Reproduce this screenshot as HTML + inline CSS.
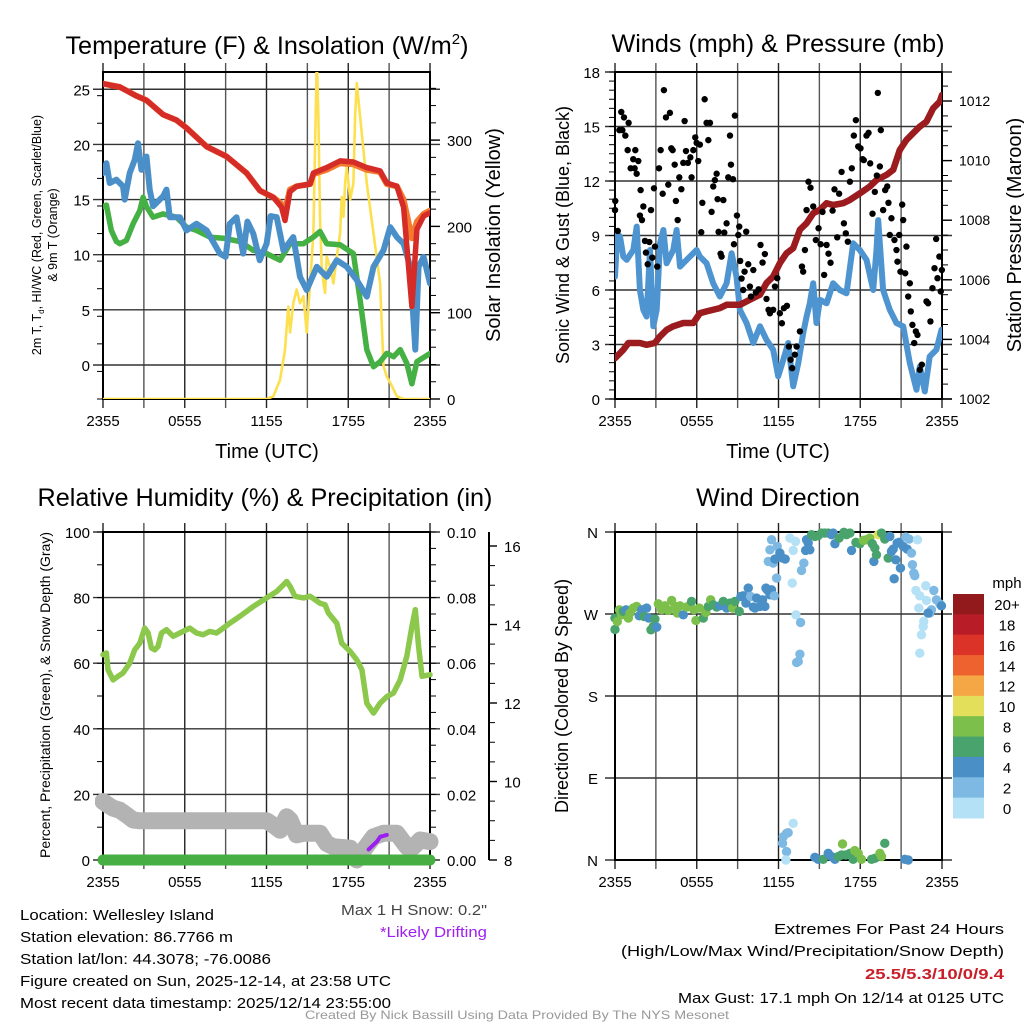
<!DOCTYPE html>
<html><head><meta charset="utf-8">
<style>
html,body{margin:0;padding:0;background:#fff;}
svg{display:block;font-family:"Liberation Sans",Arial,sans-serif;}
</style></head>
<body>
<svg id="c" width="1024" height="1024" viewBox="0 0 1024 1024" xmlns="http://www.w3.org/2000/svg">
<rect width="1024" height="1024" fill="#fff"/>
<defs>
<clipPath id="cp1"><rect x="103" y="72" width="327" height="327"/></clipPath>
<clipPath id="cp2"><rect x="615" y="72" width="327" height="327"/></clipPath>
<clipPath id="cp3"><rect x="95" y="532" width="345" height="340"/></clipPath>
<clipPath id="cp4"><rect x="605" y="525" width="345" height="345"/></clipPath>
</defs>
<g id="g1"></g>
<g id="g2"></g>
<g id="g3"></g>
<g id="g4"></g>

<text x="267" y="54" font-size="25.2" text-anchor="middle">Temperature (F) &amp; Insolation (W/m<tspan font-size="15" dy="-10">2</tspan><tspan dy="10">)</tspan></text>
<text x="778" y="52" font-size="25.2" text-anchor="middle">Winds (mph) &amp; Pressure (mb)</text>
<text x="265" y="506" font-size="25.2" text-anchor="middle">Relative Humidity (%) &amp; Precipitation (in)</text>
<text x="778" y="506" font-size="25.2" text-anchor="middle">Wind Direction</text>

<text x="267" y="458" font-size="20" text-anchor="middle">Time (UTC)</text>
<text x="778" y="458" font-size="20" text-anchor="middle">Time (UTC)</text>
<text transform="translate(41,235) rotate(-90)" font-size="12.5" text-anchor="middle">2m T, T<tspan font-size="8" dy="3">d</tspan><tspan dy="-3">, HI/WC (Red, Green, Scarlet/Blue)</tspan></text>
<text transform="translate(57,235) rotate(-90)" font-size="12.5" text-anchor="middle">&amp; 9m T (Orange)</text>
<text transform="translate(500,235) rotate(-90)" font-size="20" text-anchor="middle">Solar Insolation (Yellow)</text>
<text transform="translate(569,235) rotate(-90)" font-size="18" text-anchor="middle">Sonic Wind &amp; Gust (Blue, Black)</text>
<text transform="translate(1021,235) rotate(-90)" font-size="20" text-anchor="middle">Station Pressure (Maroon)</text>
<text transform="translate(50,695) rotate(-90)" font-size="14" text-anchor="middle">Percent, Precipitation (Green), &amp; Snow Depth (Gray)</text>
<text transform="translate(568,696) rotate(-90)" font-size="18" text-anchor="middle">Direction (Colored By Speed)</text>

<g font-size="15">
<text x="20" y="920" textLength="194" lengthAdjust="spacingAndGlyphs">Location: Wellesley Island</text>
<text x="20" y="942" textLength="213" lengthAdjust="spacingAndGlyphs">Station elevation: 86.7766 m</text>
<text x="20" y="964" textLength="251" lengthAdjust="spacingAndGlyphs">Station lat/lon: 44.3078; -76.0086</text>
<text x="20" y="986" textLength="371" lengthAdjust="spacingAndGlyphs">Figure created on Sun, 2025-12-14, at 23:58 UTC</text>
<text x="20" y="1008" textLength="371" lengthAdjust="spacingAndGlyphs">Most recent data timestamp: 2025/12/14 23:55:00</text>
<text x="341" y="915" fill="#444" textLength="146" lengthAdjust="spacingAndGlyphs">Max 1 H Snow: 0.2"</text>
<text x="380" y="937" fill="#a020f0" textLength="107" lengthAdjust="spacingAndGlyphs">*Likely Drifting</text>
<text x="774" y="934" textLength="230" lengthAdjust="spacingAndGlyphs">Extremes For Past 24 Hours</text>
<text x="621" y="956" textLength="383" lengthAdjust="spacingAndGlyphs">(High/Low/Max Wind/Precipitation/Snow Depth)</text>
<text x="865" y="979" fill="#c8202a" font-weight="bold" textLength="139" lengthAdjust="spacingAndGlyphs">25.5/5.3/10/0/9.4</text>
<text x="678" y="1003" textLength="326" lengthAdjust="spacingAndGlyphs">Max Gust: 17.1 mph On 12/14 at 0125 UTC</text>
<text x="305" y="1019" font-size="12" fill="#999" textLength="424" lengthAdjust="spacingAndGlyphs">Created By Nick Bassill Using Data Provided By The NYS Mesonet</text>
</g>
</svg>
<script>
// ---------- data ----------
const timeTickLabels = ["2355","0555","1155","1755","2355"];
const tempTicks = [0,5,10,15,20,25];
const solarTicks = [0,100,200,300];
const windTicks = [0,3,6,9,12,15,18];
const pressTicks = [1002,1004,1006,1008,1010,1012];
const rhTicks = [0,20,40,60,80,100];
const precipTickLabels = ["0.00","0.02","0.04","0.06","0.08","0.10"];
const snowTicks = [8,10,12,14,16];
const dirTickLabels = ["N","E","S","W","N"];
const dirTicks = [0,90,180,270,360];
const speedBinLabels = ["20+","18","16","14","12","10","8","6","4","2","0"];

const tempH = [0,1.23,2.45,3.19,4.41,5.39,6.13,7.6,9.07,10.54,11.52,12.5,13.11,13.36,13.72,14.21,15.2,15.44,16.42,17.4,18.38,19.36,20.34,20.83,21.57,22.06,22.67,23.04,23.53,24];
const tempV = [25.5,25.2,24.4,24.0,22.7,22.2,21.5,19.8,18.9,17.4,15.8,15.2,14.3,13.1,15.7,16.2,16.4,17.4,17.9,18.5,18.4,17.9,17.6,16.5,16.2,14.3,5.3,12.3,13.5,13.8];
const temp9mV = [25.5,25.2,24.4,24.0,22.7,22.2,21.5,19.8,18.9,17.4,15.8,15.2,14.6,14.0,15.9,16.2,16.4,17.3,17.7,18.3,18.2,17.7,17.5,16.4,16.2,15.0,11.5,13.0,13.7,14.0];
const dewH = [0,0.25,0.61,0.98,1.23,1.72,2.21,2.7,2.94,3.19,3.68,4.41,5.39,6.13,6.86,7.84,8.82,10.05,11.03,12.01,12.99,13.73,14.71,15.44,15.93,16.42,17.4,18.38,18.87,19.36,19.85,20.34,20.83,21.32,21.81,22.3,22.67,23.04,24];
const dewV = [14.35,14.5,12.2,11.2,11.0,11.3,12.8,14.0,15.2,14.35,13.4,13.7,13.4,12.5,12.2,11.6,11.5,11.2,10.4,10.1,9.5,11.0,11.0,11.6,12.1,11.0,10.9,10.1,5.9,1.4,-0.15,0.3,1.05,0.75,1.4,0.15,-1.7,0.3,1.05];
const wcH = [0,0.25,0.49,0.98,1.47,1.59,1.96,2.33,2.57,2.82,3.19,3.43,3.68,4.41,4.66,4.9,5.64,6.13,6.86,7.6,8.58,9.0,9.31,9.8,10.29,10.6,11.03,11.5,12.01,12.3,12.75,13.24,13.97,14.46,14.95,15.69,16.42,17.16,17.89,18.63,19.36,19.85,20.59,21.08,21.57,22.06,22.55,22.92,23.16,23.53,24];
const wcV = [17.4,18.3,16.5,16.8,16.2,15.0,17.4,18.6,20.1,17.7,18.9,15.9,14.4,15.3,15.9,13.4,13.4,12.2,12.8,12.2,10.1,9.8,12.8,13.4,10.1,13.0,11.9,9.5,11.0,13.5,13.4,10.4,11.6,8.0,6.8,8.9,8.0,9.5,8.9,7.7,6.2,8.9,10.4,12.5,11.6,11.0,8.9,1.4,8.9,9.8,7.4];
const solarH = [0,12,12.5,12.99,13.36,13.48,13.6,13.73,13.97,14.22,14.46,14.71,14.95,15.2,15.44,15.56,15.69,15.81,15.93,16.05,16.18,16.3,16.42,16.67,16.91,17.16,17.4,17.52,17.65,17.77,17.89,18.14,18.38,18.5,18.63,18.87,19.36,19.85,20.34,20.59,20.83,21.08,21.57,22.06,24];
const solarV = [0,0,3,22,57,84,107,77,111,127,111,119,77,134,192,288,395,327,211,153,134,123,165,153,134,165,192,234,211,250,269,231,250,327,366,327,250,192,134,38,26,19,3,0,0];

const pressH = [0,0.61,0.98,1.83,2.32,2.93,3.3,3.79,4.28,5.01,5.75,6.23,6.72,7.7,8.19,9.17,10.15,10.64,11.12,11.61,12.1,12.59,13.08,13.57,14.06,14.55,15.04,15.53,16.01,16.75,17.24,17.97,18.7,19.19,19.93,20.42,20.9,21.39,21.88,22.37,22.86,23.35,23.84,24];
const pressV = [1003.37,1003.65,1003.88,1003.88,1003.82,1003.88,1004.1,1004.32,1004.44,1004.55,1004.55,1004.88,1004.94,1005.05,1005.16,1005.16,1005.39,1005.5,1005.89,1006.11,1006.56,1006.89,1007.06,1007.68,1007.9,1008.23,1008.35,1008.57,1008.51,1008.57,1008.68,1008.9,1009.13,1009.35,1009.52,1009.69,1010.36,1010.69,1010.92,1011.14,1011.31,1011.75,1011.98,1012.2];
const windH = [0,0.17,0.37,0.61,0.86,1.34,1.59,1.83,2.08,2.32,2.57,2.81,3.06,3.3,3.55,3.79,4.03,4.28,4.52,4.77,5.26,5.75,5.99,6.23,6.72,7.21,7.7,8.19,8.56,8.92,9.17,9.66,10.15,10.64,11.12,11.61,11.98,12.35,12.71,13.08,13.45,13.81,14.06,14.3,14.55,14.79,15.04,15.53,16.01,16.5,16.99,17.48,17.97,18.46,18.95,19.19,19.32,19.68,20.17,20.66,21.15,21.64,22.13,22.37,22.74,23.1,23.59,23.96];
const windV = [6.74,9.12,8.94,7.84,7.66,8.2,9.49,6.0,4.91,4.54,8.2,4.0,4.91,8.57,9.3,7.47,7.84,8.2,9.3,7.29,7.66,8.02,8.2,7.84,7.47,6.37,5.64,6.37,8.02,6.74,4.91,4.18,3.08,4.0,3.26,2.71,1.25,2.16,3.08,0.7,1.98,3.63,4.54,5.27,6.37,4.18,5.46,5.27,6.37,6.0,5.82,8.57,8.2,7.66,6.0,8.2,9.85,6.0,4.91,4.18,4.0,1.98,0.51,1.79,0.42,2.34,2.71,3.81];
const gustH = [0,0.02,0.2,0.32,0.46,0.54,0.66,0.76,0.93,1.0,1.15,1.34,1.44,1.49,1.59,1.71,1.83,1.88,1.98,2.08,2.2,2.27,2.4,2.52,2.64,2.74,2.86,2.93,3.1,3.23,3.35,3.5,3.59,3.74,3.91,4.03,4.13,4.23,4.38,4.47,4.6,4.72,4.87,5.01,5.11,5.21,5.35,5.53,5.62,5.75,5.89,5.99,6.11,6.23,6.33,6.41,6.58,6.72,6.85,6.97,7.09,7.21,7.33,7.46,7.53,7.6,7.75,7.82,7.95,8.02,8.19,8.31,8.44,8.51,8.66,8.73,8.8,8.95,9.05,9.12,9.19,9.29,9.41,9.51,9.63,9.78,9.9,9.98,10.15,10.34,10.54,10.68,10.83,11.0,11.12,11.27,11.37,11.61,11.74,11.91,12.1,12.25,12.4,12.62,12.76,12.89,13.0,13.2,13.33,13.57,13.72,13.81,13.94,14.06,14.2,14.35,14.55,14.74,14.94,15.09,15.23,15.35,15.53,15.67,15.82,15.97,16.11,16.31,16.45,16.63,16.8,16.94,17.09,17.24,17.38,17.53,17.68,17.85,18.02,18.17,18.26,18.46,18.61,18.73,18.9,19.07,19.22,19.29,19.44,19.51,19.68,19.83,19.98,20.07,20.17,20.29,20.51,20.66,20.73,20.86,20.95,21.08,21.15,21.3,21.39,21.52,21.64,21.71,21.83,21.96,22.08,22.2,22.37,22.52,22.86,22.98,23.15,23.3,23.45,23.57,23.67,23.81,23.91,23.99];
const gustV = [10.4,10.9,9.25,14.8,15.8,14.8,15.5,14.5,13.7,15.2,12.7,13.2,12.7,13.7,12.4,13.1,10.1,11.5,9.85,10.6,8.7,8.06,7.42,8.64,10.4,7.78,11.6,8.39,7.29,12.7,13.7,11.3,17.0,15.5,11.8,15.75,13.8,13.7,12.9,10.9,9.85,12.2,11.55,13.0,15.3,13.65,13.0,13.3,12.2,13.7,14.4,14.1,13.1,14.0,9.18,10.8,16.5,15.2,14.25,15.2,10.3,11.7,12.05,12.4,11.0,9.2,8.0,7.84,10.95,9.16,9.67,12.2,14.5,12.9,12.1,8.52,15.6,10.1,9.03,9.49,7.6,6.63,6.0,7.01,9.21,7.42,6.19,5.64,7.1,5.86,6.04,8.48,7.51,7.98,5.51,4.91,4.72,4.91,6.19,6.65,4.72,4.17,5.0,5.13,2.89,2.16,1.7,2.44,2.89,3.72,7.29,7.01,8.2,10.4,11.96,11.63,10.6,8.75,9.4,8.52,10.3,6.83,8.48,8.0,7.5,10.37,11.54,8.9,11.3,12.5,9.67,9.12,8.66,11.96,12.7,14.5,15.35,13.9,13.8,13.2,13.15,14.5,14.65,12.97,10.2,11.4,12.3,16.85,12.8,14.8,10.4,11.5,11.7,10.8,9.03,9.95,8.75,8.2,7.56,9.03,7.01,10.7,9.85,6.92,8.39,5.64,6.37,4.82,4.08,3.08,3.72,3.53,1.61,1.89,5.37,5.27,4.27,6.1,7.2,8.81,6.65,7.84,5.92,7.1];

const rhH = [0,0.25,0.37,0.74,1.1,1.47,1.96,2.33,2.7,3.06,3.31,3.55,3.8,4.04,4.29,4.66,5.15,5.88,6.37,6.86,7.35,7.84,8.33,8.82,9.31,10.05,11.03,12.01,12.75,13.24,13.48,13.73,14.09,14.71,15.2,15.93,16.3,16.54,17.16,17.52,18.14,18.63,19.0,19.36,19.85,20.34,20.83,21.32,21.81,22.3,22.67,22.92,23.16,23.41,24];
const rhV = [62.6,63.1,58,54.9,56,57,60,64.1,66.1,70.7,69.2,64.6,64.1,65.1,69.2,70.2,68.2,69.7,70.7,69.2,68.7,69.7,69.2,70.7,72.2,74.3,77.3,79.9,81.9,83.9,84.9,83.4,80.4,79.9,80.4,78.3,77.8,75.3,72.2,66.1,63.6,61,58,47.8,44.8,47.8,49.8,50.9,54.9,62.1,71.2,76.3,65.1,56,56.5];
const snowH = [0,0.37,0.74,1.23,1.72,2.21,2.7,12.01,12.5,12.99,13.48,13.73,14.22,14.71,15.93,16.42,16.91,18.14,18.63,19.12,19.85,20.59,21.08,21.57,22.3,22.79,23.28,24];
const snowV = [9.49,9.4,9.32,9.27,9.15,9.02,9.0,9.0,8.89,8.76,9.1,9.02,8.64,8.68,8.68,8.42,8.34,8.3,8.0,8.25,8.59,8.68,8.68,8.68,8.34,8.34,8.51,8.47];
const driftH = [19.49,20.1,20.34,20.83];
const driftV = [8.27,8.47,8.59,8.64];
const precipH = [0,24];
const precipV = [0,0];

const dirH = [0,0,0.17,0.32,0.49,0.61,0.81,0.98,1.1,1.34,1.59,1.78,1.96,2.13,2.32,2.47,2.64,2.81,2.93,3.06,3.18,3.42,3.67,3.91,4.16,4.4,4.57,4.77,5.01,5.26,5.45,5.62,5.79,5.94,6.19,6.48,6.67,6.85,7.02,7.21,7.46,7.7,7.95,8.19,8.44,8.63,8.8,9.12,9.24,9.41,9.61,9.78,9.95,10.15,10.27,10.39,10.64,10.83,11.0,11.08,11.17,11.37,11.49,11.69,11.86,11.25,11.37,11.49,11.61,11.74,11.91,12.1,12.3,12.49,12.84,13.01,13.08,13.25,13.28,13.62,13.57,13.45,13.33,13.69,13.86,13.99,14.06,14.18,14.3,14.43,14.67,14.91,15.16,15.4,15.65,15.89,16.01,16.14,16.45,16.8,16.99,17.24,17.36,17.68,17.97,18.22,18.46,18.7,18.88,19.0,19.07,19.19,19.32,19.56,19.8,19.93,20.05,20.17,20.29,20.42,20.49,20.61,20.71,20.86,20.95,21.15,21.34,21.44,21.59,21.76,21.83,21.93,22.0,22.08,22.2,22.3,22.37,22.49,22.62,22.66,22.81,22.86,23.1,23.23,23.4,23.59,23.84,23.96,22.37,22.98,12.35,12.59,12.71,13.08,12.3,12.59,12.54,14.67,14.91,15.28,15.65,15.89,16.14,16.38,16.63,16.7,16.94,17.24,17.48,17.6,17.85,18.09,18.83,19.07,19.44,19.56,19.8,21.27,21.52];
const dirV = [253,265.5,261.8,274.6,269.1,272.8,274.6,265.5,271,276.5,278.3,268,274.6,267.3,276.5,265.5,252.7,256.3,264.4,255.6,281.2,274.6,279,273.9,284.9,278.3,271,279,269.1,277.6,279,283.8,274.6,262.9,276.5,265.5,271.7,278.3,285.6,280.1,277.6,279,283.8,276.5,282,276.5,283.8,272.8,289.3,290,282,298.4,289.3,277.6,276.5,287.5,278.3,285.6,278.3,298.4,296.6,291.1,296.6,290,309.4,327.7,340.5,351.5,325.9,330.3,344.2,336.9,331.4,330.3,353.3,303.9,339.8,349.7,269.1,260.7,225.9,217.9,216.8,317.8,325.9,339.8,351.5,347.9,340.5,357,355.2,355.9,358.8,358.8,358.8,357,358.8,347.1,353.4,359.6,357,358.8,339.8,348.6,347.1,350.8,351.5,353.3,347.1,327.7,342.4,335,357,358.8,352.2,354.4,331.4,355.2,338.7,341.3,308.7,329.5,347.9,348.6,320.4,344.2,354.4,341.3,352.2,336.9,324.1,314.9,312,295.9,351.5,276.5,290,247.2,256.3,261.8,301,284.9,271,274.6,295.9,285.6,281.2,279,227,271,25.6,29.3,30,40.3,18.3,9.2,0,2.9,0.7,0.7,7.3,3.7,0.7,3.7,5.5,17.6,5.5,7.3,0.7,10.3,7.3,0.7,0.7,1.8,7.3,3.7,18.3,0.7,0];
const dirSpeed = [6,6,8,8,8,6,4,8,8,8,8,4,4,6,4,4,6,6,6,4,8,8,8,8,8,8,8,8,4,8,8,6,8,8,8,6,8,6,8,6,6,4,6,4,6,8,6,6,4,4,4,4,2,4,4,4,4,4,4,4,4,4,4,2,2,2,2,2,2,4,1,4,4,4,0,0,0,0,0,2,2,2,2,2,2,4,4,4,4,6,6,6,6,6,6,4,4,4,6,6,6,6,4,6,6,8,8,8,6,4,6,6,10,6,6,6,6,4,4,4,4,4,4,4,4,4,2,4,2,2,2,2,2,0,0,0,0,0,0,0,0,0,2,2,2,2,2,4,0,4,2,2,2,0,2,2,0,4,4,6,4,4,4,6,6,8,6,6,6,8,8,8,6,6,8,8,6,4,4];
const speedColors = ["#931a1c","#b81d27","#dc3328","#ee6230","#f4a744","#e4df5b","#7cbf4a","#48a36d","#4a8fc6","#7db9e2","#b5e1f6"];

// ---------- helpers ----------
const NS = "http://www.w3.org/2000/svg";
function mk(parent, tag, attrs){
  const e = document.createElementNS(NS, tag);
  for (const k in attrs) e.setAttribute(k, attrs[k]);
  parent.appendChild(e);
  return e;
}
function poly(parent, hs, vs, xf, yf, color, w, name, clip){
  let d = "";
  for (let i=0;i<hs.length;i++) d += (i?"L":"M") + xf(hs[i]).toFixed(1) + "," + yf(vs[i]).toFixed(1);
  const p = mk(parent, "path", {d:d, fill:"none", stroke:color, "stroke-width":w, "stroke-linejoin":"round", "stroke-linecap":"round"});
  if (clip) p.setAttribute("clip-path", "url(#"+clip+")");
  
  
  return p;
}
function label(parent, x, y, txt, size, anchor, name){
  const t = mk(parent, "text", {x:x, y:y, "font-size":size, "text-anchor":anchor});
  t.textContent = txt;
  
  
  return t;
}
function frame(g, L, R, T, B, xf, yTicksPx){
  for (let h=0; h<=24; h+=3){
    const x = xf(h);
    const l = mk(g, "line", {x1:x, x2:x, y1:T-9, y2:B+9, stroke:(h%6===0?"#222":"#555"), "stroke-width":1.4});
    
    
  }
  for (const y of yTicksPx){
    const l = mk(g, "line", {x1:L-10, x2:R+10, y1:y, y2:y, stroke:"#333", "stroke-width":1.4});
    
    
  }
  const bx = mk(g, "rect", {x:L, y:T, width:R-L, height:B-T, fill:"none", stroke:"#000", "stroke-width":2});
  
  
  for (let i=0;i<timeTickLabels.length;i++){
    label(g, xf(i*6), B+27, timeTickLabels[i], 15, "middle", "x-tick-label");
  }
}
function minorTicks(g, x, y0, y1, step, dir){
  for (let y=y0; y>=y1-0.1; y-=step){
    const l = mk(g, "line", {x1:x, x2:x+dir*6, y1:y, y2:y, stroke:"#000", "stroke-width":1});
    
    
  }
}

// ---------- panel 1 ----------
(function(){
  const g = document.getElementById("g1");
  const X = h => 103 + h*327/24;
  const Y = v => 365 - v*11.03;
  const S = w => 399 - w*0.863;
  frame(g, 103, 430, 72, 399, X, tempTicks.map(Y));
  minorTicks(g, 103, 399, 72, 11.03*2.5, -1);
  minorTicks(g, 430, 399, 72, 0.863*20, 1);
  tempTicks.forEach(v => label(g, 90, Y(v)+6, String(v), 15, "end", "temp-tick-label"));
  solarTicks.forEach(v => {
    const l = mk(g,"line",{x1:430,x2:440,y1:S(v),y2:S(v),stroke:"#000","stroke-width":1.4});
    
    
    label(g, 447, S(v)+6, String(v), 15, "start", "solar-tick-label");
  });
  poly(g, solarH, solarV, X, S, "#fde050", 2.6, "solar-line", "cp1");
  poly(g, dewH, dewV, X, Y, "#45b043", 5.5, "dewpoint-line", "cp1");
  poly(g, wcH, wcV, X, Y, "#4a8fc8", 6, "windchill-line", "cp1");
  poly(g, tempH, temp9mV, X, Y, "#f47a30", 6, "temp-9m-line", "cp1");
  poly(g, tempH, tempV, X, Y, "#d62c27", 5.5, "temp-2m-line", "cp1");
})();

// ---------- panel 2 ----------
(function(){
  const g = document.getElementById("g2");
  const X = h => 615 + h*327/24;
  const Y = v => 399 - v*327/18;
  const P = p => 399 - (p-1002)*29.8;
  frame(g, 615, 942, 72, 399, X, windTicks.map(Y));
  minorTicks(g, 615, 399, 72, 327/36, -1);
  minorTicks(g, 942, 399, 72, 29.8/2, 1);
  windTicks.forEach(v => label(g, 600, Y(v)+6, String(v), 15, "end", "wind-tick-label"));
  pressTicks.forEach(v => {
    const l = mk(g,"line",{x1:942,x2:952,y1:P(v),y2:P(v),stroke:"#000","stroke-width":1.4});
    
    
    label(g, 959, P(v)+5, String(v), 14, "start", "pressure-tick-label");
  });
  poly(g, windH, windV, X, Y, "#4d94d0", 6, "sonic-wind-line", "cp2");
  poly(g, pressH, pressV, X, P, "#9b1b1e", 6.5, "pressure-line", "cp2");
  for (let i=0;i<gustH.length;i++){
    const c = mk(g, "circle", {cx:X(gustH[i]), cy:Y(gustV[i]), r:3.2, fill:"#000"});
    
    
  }
})();

// ---------- panel 3 ----------
(function(){
  const g = document.getElementById("g3");
  const X = h => 103 + h*327/24;
  const Y = v => 860 - v*3.28;
  const SN = s => 860 - (s-8)*39.25;
  frame(g, 103, 430, 532, 860, X, rhTicks.map(Y));
  minorTicks(g, 103, 860, 532, 3.28*10, -1);
  minorTicks(g, 430, 860, 532, 3.28*5, 1);
  rhTicks.forEach((v,i) => {
    label(g, 90, Y(v)+6, String(v), 15, "end", "rh-tick-label");
    label(g, 447, Y(v)+6, precipTickLabels[i], 15, "start", "precip-tick-label");
  });
  const ax = mk(g,"line",{x1:489,x2:489,y1:532,y2:860,stroke:"#000","stroke-width":2});
  
  
  minorTicks(g, 489, 860, 540, 39.25/2, 1);
  snowTicks.forEach(v => {
    const l = mk(g,"line",{x1:489,x2:497,y1:SN(v),y2:SN(v),stroke:"#000","stroke-width":1.4});
    
    
    label(g, 504, SN(v)+6, String(v), 15, "start", "snow-tick-label");
  });
  poly(g, snowH, snowV, X, SN, "#b3b3b3", 17, "snow-depth-line", "cp3");
  poly(g, driftH, driftV, X, SN, "#9b1ff0", 4, "drifting-line", "cp3");
  poly(g, precipH, precipV, X, Y, "#47ae44", 11, "precip-line", "cp3");
  poly(g, rhH, rhV, X, Y, "#8cc84b", 5.5, "rh-line", "cp3");
})();

// ---------- panel 4 ----------
(function(){
  const g = document.getElementById("g4");
  const X = h => 615 + h*327/24;
  const Y = d => 860 - d*328/360;
  frame(g, 615, 942, 532, 860, X, dirTicks.map(Y));
  dirTicks.forEach((d,i) => label(g, 598, Y(d)+6, dirTickLabels[i], 15, "end", "direction-tick-label"));
  for (let i=0;i<dirH.length;i++){
    const s = dirSpeed[i];
    const bin = Math.max(0, Math.min(10, 10 - Math.round(s/2)));
    const c = mk(g, "circle", {cx:X(dirH[i]), cy:Y(dirV[i]), r:4.7, fill:speedColors[bin]});
    
    
  }
  const top = 594, bh = 224/11;
  for (let i=0;i<speedBinLabels.length;i++){
    const r = mk(g, "rect", {x:953, y:top+i*bh, width:31, height:bh+0.5, fill:speedColors[i]});
    
    
    label(g, 1007, top+i*bh+bh/2+6, speedBinLabels[i], 15, "middle", "colorbar-label");
  }
  label(g, 1007, 588, "mph", 15, "middle", "colorbar-title");
})();
</script>
</body></html>
